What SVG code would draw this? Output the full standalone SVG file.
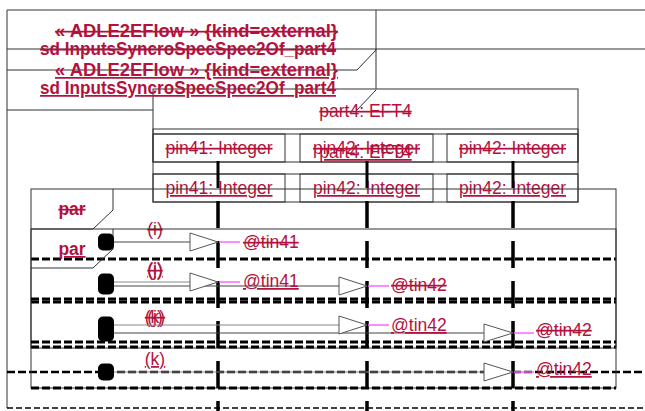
<svg xmlns="http://www.w3.org/2000/svg" width="645" height="411" viewBox="0 0 645 411">
<style>
.ln{stroke:#333;stroke-width:1;fill:none}
.wf{fill:#fff;stroke:#333;stroke-width:1}
.t{font-family:"Liberation Sans",Arial,sans-serif;font-size:17.5px;fill:#b3123d}
.b{font-weight:bold}
.s{text-decoration:line-through}
.u{text-decoration:underline}
.m{text-anchor:middle}
.ll{stroke:#000;stroke-width:3;stroke-dasharray:27 13;fill:none}
.sep{stroke:#000;stroke-width:3;stroke-dasharray:8 3;fill:none}
.m1{stroke:#444;stroke-width:1;fill:none}
.m2{stroke:#888;stroke-width:1;fill:none}
.tri{fill:#fff;stroke:#555;stroke-width:1}
.mg{stroke:#ff66ff;stroke-width:1.5}
.gate{fill:#000}
</style>
<rect width="645" height="411" fill="#fff"/>
<g id="frame-1">
  <path class="ln" d="M7,10 H645 M7,10 V408 M7,70 H357 L376,50 V10"/>
  <path d="M7,372 H645" stroke="#000" stroke-width="2.5" stroke-dasharray="8 3" fill="none"/>
</g>
<g id="frame-2">
  <path class="ln" d="M7,49 H645 M7,110 H153 M376,49 V90"/>
  <path d="M7,408 H645" stroke="#000" stroke-width="1.5" stroke-dasharray="6 3" fill="none"/>
</g>
<g id="part4-1">
  <rect class="wf" x="153" y="89" width="425" height="73"/>
  <line class="ln" x1="153" y1="134" x2="578" y2="134"/>
  <text class="t s m" x="365.5" y="117">part4: EFT4</text>
</g>
<g id="part4-2">
  <rect class="ln" x="153" y="129" width="425" height="73"/>
  <line class="ln" x1="153" y1="174" x2="578" y2="174"/>
  <text class="t u m" x="365.5" y="158">part4: EFT4</text>
</g>
<g id="frame-1-title">
  <text class="t b s" x="55" y="37" textLength="283" lengthAdjust="spacingAndGlyphs">« ADLE2EFlow » {kind=external}</text>
  <text class="t b s" x="40" y="55" textLength="296" lengthAdjust="spacingAndGlyphs">sd InputsSyncroSpecSpec2Of_part4</text>
</g>
<g id="frame-2-title">
  <path class="ln" d="M357,110 L376,90"/>
  <text class="t b u" x="55" y="76" textLength="283" lengthAdjust="spacingAndGlyphs">« ADLE2EFlow » {kind=external}</text>
  <text class="t b u" x="40" y="94" textLength="296" lengthAdjust="spacingAndGlyphs">sd InputsSyncroSpecSpec2Of_part4</text>
</g>
<g id="pin41-1">
  <rect class="ln" x="153" y="134" width="132" height="28"/>
  <text class="t s m" x="219" y="154">pin41: Integer</text>
</g>
<g id="pin42-1">
  <rect class="ln" x="300" y="134" width="133" height="28"/>
  <text class="t s m" x="366.5" y="154">pin42: Integer</text>
</g>
<g id="pin42b-1">
  <rect class="ln" x="447" y="134" width="131" height="28"/>
  <text class="t s m" x="512.5" y="154">pin42: Integer</text>
</g>
<g id="pin41-2">
  <rect class="ln" x="153" y="174" width="132" height="28"/>
  <text class="t u m" x="219" y="194">pin41: Integer</text>
</g>
<g id="pin42-2">
  <rect class="ln" x="300" y="174" width="133" height="28"/>
  <text class="t u m" x="366.5" y="194">pin42: Integer</text>
</g>
<g id="pin42b-2">
  <rect class="ln" x="447" y="174" width="131" height="28"/>
  <text class="t u m" x="512.5" y="194">pin42: Integer</text>
</g>
<g id="par-1">
  <rect class="ln" x="31" y="189" width="585" height="159"/>
  <path class="ln" d="M31,229 H93 L113,210 V189"/>
  <text class="t b s m" x="72" y="215">par</text>
  <path class="sep" d="M31,259 H616 M31,302 H616 M31,347 H616"/>
  <text class="t s m" x="155" y="235">(i)</text>
  <text class="t s m" x="155" y="276">(j)</text>
  <text class="t s m" x="155" y="323">(k)</text>
</g>
<g id="par-2">
  <rect class="ln" x="31" y="229" width="585" height="159"/>
  <path class="ln" d="M31,268 H93 L113,249 V229"/>
  <text class="t b u m" x="72" y="255">par</text>
  <path class="sep" d="M31,299 H616 M31,342 H616 M31,388 H616"/>
  <text class="t u m" x="155" y="275">(i)</text>
  <text class="t u m" x="155" y="323">(j)</text>
  <text class="t u m" x="155" y="365">(k)</text>
</g>
<g id="lifelines">
  <path class="ll" d="M218,161 V411 M367,161 V411 M513,161 V411"/>
  <path class="ll" d="M218,201 V411 M367,201 V411 M513,201 V411"/>
</g>
<g id="connectors">
  <rect class="gate" x="98" y="233.5" width="16" height="17" rx="5"/>
  <path class="m1" d="M114,242 H190"/>
  <polygon class="tri" points="190,233 218,242 190,251"/>
  <line class="mg" x1="219" y1="242" x2="240" y2="242"/>
  <text class="t s" x="243" y="248">@tin41</text>

  <rect class="gate" x="98" y="277.5" width="16" height="17" rx="5"/>
  <path class="m1" d="M114,286 H339"/>
  <polygon class="tri" points="339,277 367,286 339,295"/>
  <line class="mg" x1="368" y1="286" x2="389" y2="286"/>
  <text class="t s" x="391" y="291">@tin42</text>

  <rect class="gate" x="98" y="324.5" width="16" height="17" rx="5"/>
  <path class="m1" d="M114,333 H484"/>
  <polygon class="tri" points="484,324 513,333 484,342"/>
  <line class="mg" x1="514" y1="333" x2="534" y2="333"/>
  <text class="t s" x="536" y="336">@tin42</text>

  <rect class="gate" x="98" y="273.5" width="16" height="17" rx="5"/>
  <path class="m2" d="M114,282 H190"/>
  <polygon class="tri" points="190,273 218,282 190,291"/>
  <line class="mg" x1="219" y1="282" x2="240" y2="282"/>
  <text class="t u" x="243" y="287">@tin41</text>

  <rect class="gate" x="98" y="316.5" width="16" height="17" rx="5"/>
  <path class="m2" d="M114,325 H339"/>
  <polygon class="tri" points="339,316 367,325 339,334"/>
  <line class="mg" x1="368" y1="325" x2="389" y2="325"/>
  <text class="t u" x="391" y="331">@tin42</text>

  <rect class="gate" x="98" y="363.5" width="16" height="17" rx="5"/>
  <path class="m2" d="M114,372 H484"/>
  <polygon class="tri" points="484,363 513,372 484,381"/>
  <line class="mg" x1="514" y1="372" x2="534" y2="372"/>
  <text class="t u" x="536" y="375">@tin42</text>
</g>
</svg>
